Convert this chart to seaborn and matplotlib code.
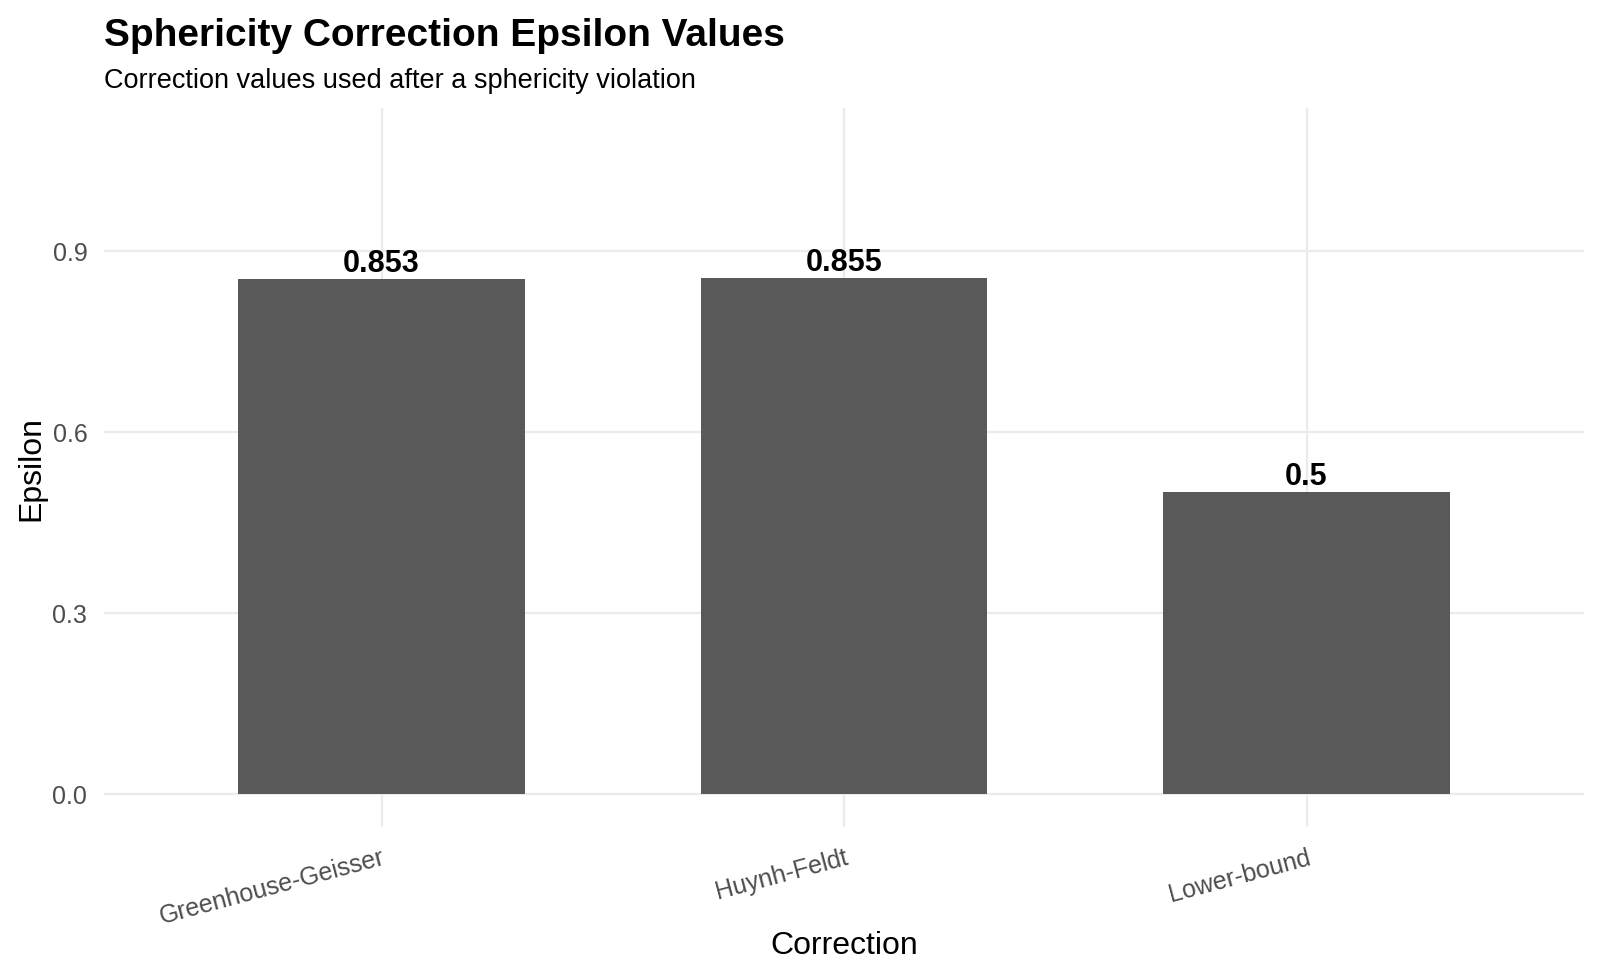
"""
Bar chart of the sphericity correction epsilon values.
"""
import matplotlib
matplotlib.use("Agg")
from matplotlib import pyplot as plt
import pandas as pd
import seaborn as sns

# Data
corrections = ["Greenhouse-Geisser", "Huynh-Feldt", "Lower-bound"]
epsilons = [0.853, 0.855, 0.5]
bar_labels = ["0.853", "0.855", "0.5"]
y_ticks = [0.0, 0.3, 0.6, 0.9]
y_tick_labels = ["0.0", "0.3", "0.6", "0.9"]

df = pd.DataFrame({"Correction": corrections, "Epsilon": epsilons})

sns.set_theme(style="white")
plt.rcParams["font.family"] = ["Liberation Sans", "DejaVu Sans"]

grid_color = "#EBEBEB"
bar_color = "#595959"

fig = plt.figure(figsize=(16, 9.78), dpi=100)
ax = fig.add_axes([104 / 1600, 1 - 828 / 978, 1480 / 1600, 719 / 978])

sns.barplot(
    data=df,
    x="Correction",
    y="Epsilon",
    color=bar_color,
    saturation=1,
    width=0.62,
    edgecolor="none",
    linewidth=0,
    ax=ax,
    zorder=3,
)

# Value labels above the bars
for i, (val, lab) in enumerate(zip(epsilons, bar_labels)):
    ax.annotate(
        lab,
        xy=(i, val),
        xytext=(0, 6),
        textcoords="offset points",
        ha="center",
        va="baseline",
        fontsize=22,
        fontweight="bold",
        color="black",
        zorder=4,
    )

# Axes limits and ticks
ax.set_xlim(-0.6, 2.6)
ax.set_ylim(-0.0547, 1.137)
ax.set_yticks(y_ticks)
ax.set_yticklabels(y_tick_labels)

# Grid and spines (minimal look)
ax.grid(True, axis="both", color=grid_color, linewidth=1.6, zorder=0)
ax.set_axisbelow(True)
for s in ax.spines.values():
    s.set_visible(False)
ax.tick_params(axis="both", length=0, labelsize=18, labelcolor="#4D4D4D")
ax.tick_params(axis="y", pad=12)
ax.tick_params(axis="x", pad=13)
plt.setp(
    ax.get_xticklabels(), rotation=15, ha="right", va="top", rotation_mode="anchor"
)

# Axis labels
ax.set_xlabel("Correction", fontsize=23, color="black")
ax.set_ylabel("Epsilon", fontsize=23, color="black")
ax.xaxis.label.set_va("center")
ax.yaxis.label.set_va("center")
ax.xaxis.set_label_coords(0.5, -0.164)
ax.yaxis.set_label_coords(-0.0493, 0.5)

# Title and subtitle
fig.text(
    104 / 1600,
    1 - 46 / 978,
    "Sphericity Correction Epsilon Values",
    fontsize=28,
    fontweight="bold",
    ha="left",
    va="baseline",
    color="black",
)
fig.text(
    104 / 1600,
    1 - 88 / 978,
    "Correction values used after a sphericity violation",
    fontsize=19.5,
    ha="left",
    va="baseline",
    color="black",
)

fig.savefig("out.png", dpi=100, facecolor="white")
